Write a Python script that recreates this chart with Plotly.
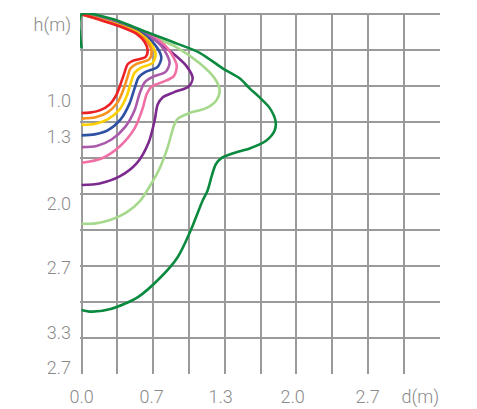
import plotly.graph_objects as go

# ---- data (metres: d = horizontal distance, h = depth) ----
red_d = [0, 0.168, 0.354, 0.509, 0.587, 0.615, 0.596, 0.475, 0.428, 0.400, 0.368, 0.326, 0.261, 0.168, 0.074, 0]
red_h = [0, 0.051, 0.111, 0.179, 0.257, 0.334, 0.395, 0.432, 0.464, 0.539, 0.631, 0.743, 0.836, 0.891, 0.912, 0.916]

orange_d = [0, 0.168, 0.354, 0.521, 0.615, 0.652, 0.628, 0.512, 0.456, 0.424, 0.386, 0.335, 0.242, 0.130, 0]
orange_h = [0, 0.049, 0.107, 0.176, 0.260, 0.348, 0.418, 0.460, 0.501, 0.594, 0.706, 0.817, 0.910, 0.956, 0.968]

yellow_d = [0, 0.168, 0.354, 0.540, 0.642, 0.689, 0.661, 0.549, 0.493, 0.456, 0.419, 0.354, 0.242, 0.121, 0]
yellow_h = [0, 0.046, 0.102, 0.176, 0.269, 0.371, 0.450, 0.497, 0.543, 0.641, 0.761, 0.882, 0.975, 1.017, 1.026]

blue_d = [0, 0.168, 0.354, 0.559, 0.680, 0.742, 0.708, 0.596, 0.531, 0.493, 0.447, 0.363, 0.242, 0.121, 0]
blue_h = [0, 0.045, 0.097, 0.176, 0.279, 0.399, 0.487, 0.534, 0.585, 0.687, 0.826, 0.975, 1.077, 1.114, 1.123]

orchid_d = [0, 0.168, 0.354, 0.587, 0.745, 0.819, 0.782, 0.661, 0.587, 0.540, 0.493, 0.410, 0.279, 0.140, 0]
orchid_h = [0, 0.042, 0.093, 0.176, 0.297, 0.446, 0.534, 0.580, 0.631, 0.734, 0.891, 1.040, 1.161, 1.221, 1.232]

pink_d = [0, 0.168, 0.354, 0.633, 0.801, 0.885, 0.857, 0.745, 0.652, 0.605, 0.568, 0.493, 0.354, 0.186, 0]
pink_h = [0, 0.040, 0.088, 0.186, 0.316, 0.474, 0.576, 0.631, 0.669, 0.743, 0.873, 1.058, 1.226, 1.337, 1.377]

purple_d = [0, 0.168, 0.354, 0.633, 0.838, 0.978, 1.034, 0.996, 0.857, 0.754, 0.708, 0.680, 0.624, 0.512, 0.354, 0.168, 0]
purple_h = [0, 0.037, 0.084, 0.204, 0.353, 0.483, 0.594, 0.669, 0.724, 0.771, 0.836, 0.984, 1.188, 1.383, 1.504, 1.569, 1.583]

lightgreen_d = [0, 0.168, 0.447, 0.633, 0.885, 1.099, 1.238, 1.285, 1.254, 1.155, 1.006, 0.894, 0.857, 0.801, 0.726, 0.633, 0.540, 0.419, 0.279, 0.130, 0]
lightgreen_h = [0, 0.032, 0.111, 0.195, 0.306, 0.455, 0.594, 0.706, 0.799, 0.873, 0.915, 0.970, 1.040, 1.235, 1.430, 1.597, 1.736, 1.838, 1.903, 1.939, 1.943]

darkgreen_d = [0, 0, 0.270, 0.633, 0.894, 1.099, 1.313, 1.471, 1.564, 1.657, 1.750, 1.806, 1.797, 1.720, 1.564, 1.434, 1.304, 1.248, 1.210, 1.173, 1.127, 1.015, 0.894, 0.736, 0.521, 0.270, 0.088, 0]
darkgreen_h = [0.316, 0, 0.040, 0.176, 0.274, 0.357, 0.501, 0.594, 0.687, 0.771, 0.868, 0.994, 1.077, 1.170, 1.244, 1.281, 1.332, 1.393, 1.504, 1.634, 1.727, 2.006, 2.253, 2.439, 2.625, 2.733, 2.758, 2.742]

x_tick_vals = [0, 0.652, 1.294, 1.965, 2.663, 3.154]
x_tick_text = ["0.0", "0.7", "1.3", "2.0", "2.7", "d(m)"]
y_tick_vals = [0.095, 0.799, 1.133, 1.752, 2.346, 2.950, 3.275]
y_tick_text = ["h(m)", "1.0", "1.3", "2.0", "2.7", "3.3", "2.7"]

series = [
    (lightgreen_d, lightgreen_h, "#a6d98c"),
    (purple_d, purple_h, "#7d2a8e"),
    (pink_d, pink_h, "#f06fa5"),
    (orchid_d, orchid_h, "#a95aaa"),
    (blue_d, blue_h, "#2f51a3"),
    (yellow_d, yellow_h, "#ffd000"),
    (orange_d, orange_h, "#f7921e"),
    (red_d, red_h, "#ec2227"),
    (darkgreen_d, darkgreen_h, "#0b8a3f"),
]

fig = go.Figure()
for d, h, c in series:
    fig.add_trace(go.Scatter(x=d, y=h, mode="lines",
                             line=dict(color=c, width=2.6, shape="spline", smoothing=0.8),
                             hoverinfo="skip", showlegend=False))

grid = "#9a9a9a"
font = dict(family="Roboto, Liberation Sans, Arial, sans-serif", size=18, color="#8a8a8a", weight=300)
cell = 1 / 3
grid_vals = [i * cell for i in range(11)]

fig.update_layout(
    width=477, height=409,
    margin=dict(l=72, r=45, t=5, b=43, autoexpand=False),
    paper_bgcolor="white", plot_bgcolor="white",
    font=font,
    xaxis=dict(range=[-0.015, 10 * cell + 0.003], tickvals=x_tick_vals, ticktext=x_tick_text,
               showgrid=False, zeroline=False, ticks="", automargin=False, showline=False,
               ticklabelstandoff=10,
               minor=dict(tickvals=grid_vals, showgrid=True, gridcolor=grid, gridwidth=1.5, ticks="")),
    yaxis=dict(range=[10 * cell + 0.003, -0.012], tickvals=y_tick_vals, ticktext=y_tick_text,
               showgrid=False, zeroline=False, ticks="", automargin=False, showline=False,
               ticklabelstandoff=8,
               minor=dict(tickvals=grid_vals, showgrid=True, gridcolor=grid, gridwidth=1.5, ticks="")),
)

fig.write_html("out.html")
